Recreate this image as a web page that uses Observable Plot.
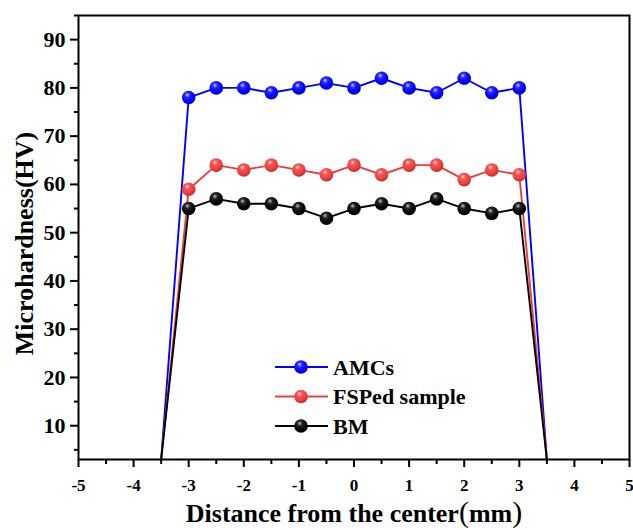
<!DOCTYPE html>
<html><head><meta charset="utf-8">
<script src="https://cdn.jsdelivr.net/npm/d3@7"></script>
<script src="https://cdn.jsdelivr.net/npm/@observablehq/plot@0.6"></script>
<style>
body{margin:0;background:#fff}
svg, svg text{font-family:"Liberation Serif","Times New Roman",serif !important}
</style>
</head><body><div id="chart"></div>
<script>
// ---- data ----
const positions = [-3.5, -3, -2.5, -2, -1.5, -1, -0.5, 0, 0.5, 1, 1.5, 2, 2.5, 3, 3.5];
const amcs  = [3, 78, 80, 80, 79, 80, 81, 80, 82, 80, 79, 82, 79, 80, 3];
const fsped = [3, 59, 64, 63, 64, 63, 62, 64, 62, 64, 64, 61, 63, 62, 3];
const bm    = [3, 55, 57, 56, 56, 55, 53, 55, 56, 55, 57, 55, 54, 55, 3];
const seriesNames = ["AMCs", "FSPed sample", "BM"];
const seriesColors = ["#0000ff", "#f03c3c", "#000000"];
const xTicks = [-5, -4, -3, -2, -1, 0, 1, 2, 3, 4, 5];
const xMinor = [-4.5, -3.5, -2.5, -1.5, -0.5, 0.5, 1.5, 2.5, 3.5, 4.5];
const yTicks = [10, 20, 30, 40, 50, 60, 70, 80, 90];
const yMinor = [5, 15, 25, 35, 45, 55, 65, 75, 85, 95];
const xLabel = "Distance from the center(mm)";
const yLabel = "Microhardness(HV)";

const seriesValues = [amcs, fsped, bm];
const rows = [];
seriesValues.forEach((vals, s) => vals.forEach((v, i) => rows.push({series: seriesNames[s], s, x: positions[i], v, end: i === 0 || i === vals.length - 1})));

const font = {fontWeight: "bold"};
const marks = [
  Plot.axisX(xTicks, {tickSize: 8, tickPadding: 11, strokeWidth: 2, tickFormat: d => String(d), fontSize: 17, ...font, label: null}),
  Plot.axisX(xMinor, {tickSize: 5, strokeWidth: 2, tickFormat: () => "", label: null}),
  Plot.axisY(yTicks, {tickSize: 8, tickPadding: 5, strokeWidth: 2, tickFormat: d => String(d), fontSize: 22, ...font, label: null}),
  Plot.axisY(yMinor, {tickSize: 4, strokeWidth: 2, tickFormat: () => "", label: null}),
];
seriesNames.forEach((name, s) => {
  const data = rows.filter(r => r.s === s);
  marks.push(Plot.line(data, {x: "x", y: "v", stroke: seriesColors[s], strokeWidth: 1.9}));
});
seriesNames.forEach((name, s) => {
  const data = rows.filter(r => r.s === s && !r.end);
  marks.push(Plot.dot(data, {x: "x", y: "v", r: 6.8, fill: `url(#ball${s})`, stroke: "none"}));
});
marks.push(Plot.frame({stroke: "#000", strokeWidth: 2}));
marks.push(Plot.text([yLabel], {frameAnchor: "left", textAnchor: "middle", dx: -54, dy: 6, rotate: -90, fontSize: 26, ...font, fill: "#000"}));
marks.push(Plot.text([xLabel], {frameAnchor: "bottom", textAnchor: "middle", dy: 62, fontSize: 26, ...font, fill: "#000"}));

const plot = Plot.plot({
  width: 633, height: 530,
  marginLeft: 78, marginRight: 4, marginTop: 15, marginBottom: 71,
  x: {domain: [-5, 5]},
  y: {domain: [3, 95]},
  style: {background: "#fff", color: "#000"},
  marks
});

const svg = d3.select(plot);
// gradients for shaded ball markers
const defs = svg.insert("defs", ":first-child");
const lighten = (c, k) => d3.interpolateRgb(c, "#fff")(k);
const darken = (c, k) => d3.interpolateRgb(c, "#000")(k);
seriesColors.forEach((c, s) => {
  const g = defs.append("radialGradient").attr("id", `ball${s}`).attr("cx", "42%").attr("cy", "35%").attr("r", "62%").attr("fx", "40%").attr("fy", "30%");
  g.append("stop").attr("offset", "0%").attr("stop-color", lighten(c, s === 2 ? 0.75 : 0.8));
  g.append("stop").attr("offset", "30%").attr("stop-color", lighten(c, 0.15));
  g.append("stop").attr("offset", "75%").attr("stop-color", c);
  g.append("stop").attr("offset", "100%").attr("stop-color", darken(c, 0.2));
});

// larger parentheses in the x label
svg.selectAll("text").filter(function() { return this.textContent === xLabel; }).each(function() {
  const t = d3.select(this);
  t.text(null);
  t.append("tspan").text("Distance from the center");
  t.append("tspan").attr("font-size", 30).attr("font-weight", "normal").text("(");
  t.append("tspan").text("mm");
  t.append("tspan").attr("font-size", 30).attr("font-weight", "normal").text(")");
});

// legend
const leg = svg.append("g").attr("font-size", 22).attr("font-weight", "bold").attr("text-anchor", "start");
const legX = 275, legY = 367, legStep = 29.5;
seriesNames.forEach((name, s) => {
  const y = legY + s * legStep;
  leg.append("line").attr("x1", legX).attr("x2", legX + 53).attr("y1", y).attr("y2", y).attr("stroke", seriesColors[s]).attr("stroke-width", 1.9);
  leg.append("circle").attr("cx", legX + 26).attr("cy", y).attr("r", 6.8).attr("fill", `url(#ball${s})`);
  leg.append("text").attr("x", legX + 58).attr("y", y).attr("dy", "0.35em").attr("text-anchor", "start").attr("fill", "#000").text(name);
});

document.getElementById("chart").appendChild(plot);
</script>
</body></html>
